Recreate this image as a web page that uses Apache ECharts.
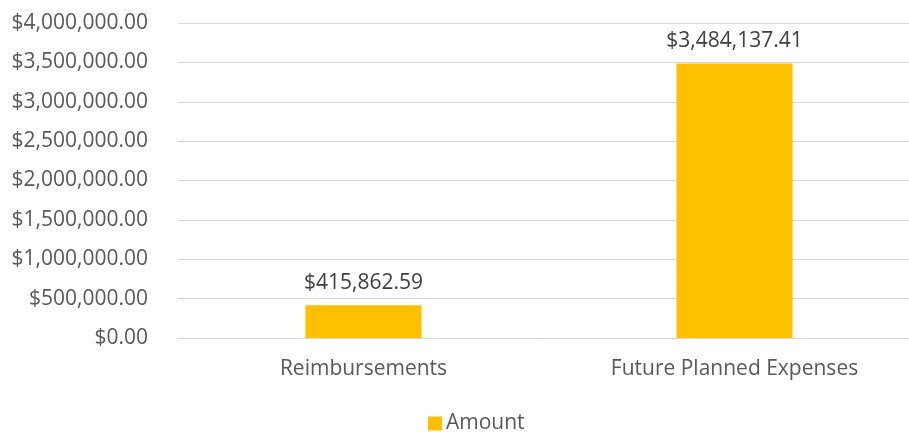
<!DOCTYPE html>
<html>
<head>
<meta charset="utf-8">
<script src="https://cdn.jsdelivr.net/npm/echarts@6/dist/echarts.min.js"></script>
<style>html,body{margin:0;padding:0;background:#fff}#c{width:909px;height:432px}</style>
</head>
<body>
<div id="c"></div>
<script>
const categories = ["Reimbursements", "Future Planned Expenses"];
const amounts = [415862.59, 3484137.41];
const seriesName = "Amount";
const yTicks = [0, 500000, 1000000, 1500000, 2000000, 2500000, 3000000, 3500000, 4000000];

function money(v) {
  return "$" + Number(v).toLocaleString("en-US", {minimumFractionDigits: 2, maximumFractionDigits: 2});
}
const FONT = "'Open Sans', sans-serif";
const chart = echarts.init(document.getElementById("c"), null, {renderer: "canvas"});
chart.setOption({
  animation: false,
  textStyle: {fontFamily: FONT},
  grid: {left: 178, top: 23, bottom: 94, width: 742, containLabel: false, outerBoundsMode: "none"},
  legend: {
    data: [seriesName], top: 413, left: 428, padding: 0,
    itemWidth: 14, itemHeight: 14, itemGap: 4,
    icon: "rect",
    textStyle: {color: "#595959", fontSize: 21, fontFamily: FONT, padding: [0,0,0,-1]}
  },
  xAxis: {
    type: "category", data: categories,
    axisLine: {show: true, lineStyle: {color: "#d9d9d9", width: 1}},
    axisTick: {show: false},
    axisLabel: {color: "#595959", fontSize: 21, margin: 21, fontFamily: FONT}
  },
  yAxis: {
    type: "value", min: yTicks[0], max: yTicks[yTicks.length - 1], interval: 500000,
    axisLine: {show: false}, axisTick: {show: false},
    splitLine: {lineStyle: {color: "#d9d9d9", width: 1}},
    axisLabel: {color: "#595959", fontSize: 21, margin: 30, fontFamily: FONT, formatter: money}
  },
  series: [{
    name: seriesName, type: "bar", data: amounts, barWidth: "31.3%",
    itemStyle: {color: "#FFC000"},
    label: {show: true, position: "top", distance: 12, color: "#404040", fontSize: 21, fontFamily: FONT,
      formatter: p => money(p.value)}
  }]
});
</script>
</body>
</html>
